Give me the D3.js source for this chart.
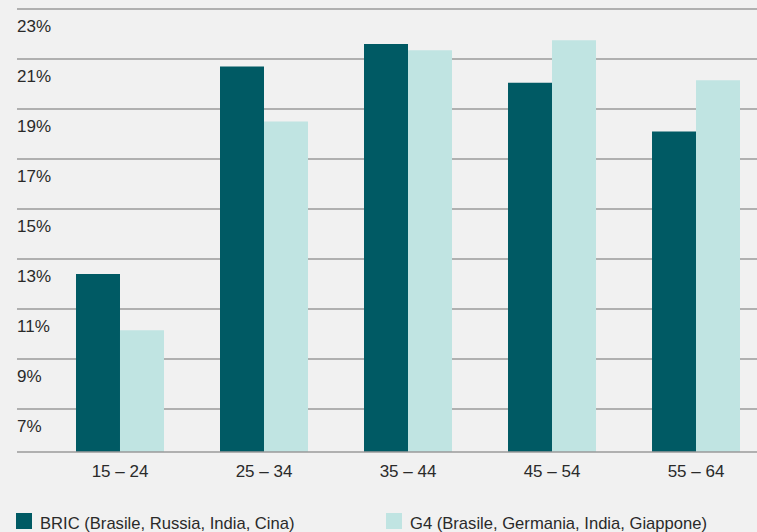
<!DOCTYPE html>
<html>
<head>
<meta charset="utf-8">
<script src="https://cdn.jsdelivr.net/npm/d3@7"></script>
<style>
  html, body { margin:0; padding:0; background:#f1f1f1; }
  #canvas { width:757px; height:532px; }
  text { font-family:"Liberation Sans", Arial, sans-serif; fill:#2a2a2a; }
</style>
</head>
<body>
<div id="canvas" class="canvas"></div>
<script>
// data
var categories = ['15 – 24', '25 – 34', '35 – 44', '45 – 54', '55 – 64'];
var series = ['BRIC (Brasile, Russia, India, Cina)', 'G4 (Brasile, Germania, India, Giappone)'];
var bricValues = [12.4, 20.7, 21.6, 20.05, 18.1];
var g4Values = [10.15, 18.5, 21.35, 21.75, 20.15];
var yTicks = [7, 9, 11, 13, 15, 17, 19, 21, 23];
var colors = ['#005a64', '#c0e4e2'];

var W = 757, H = 532;

var svg = d3.select('.canvas')
    .append('svg')
    .attr('width', W)
    .attr('height', H);

// y: 25px per point, 23% line at y=9, baseline at 452
var y = d3.scaleLinear().domain([5.28, 23]).range([452, 9]);

var x0 = d3.scaleBand().domain(categories).range([76, 740]).paddingInner(0.389).paddingOuter(0);
var x1 = d3.scaleBand().domain([0, 1]).range([0, x0.bandwidth()]);

// grid lines + labels (labels sit below their line)
var grid = svg.append('g');
grid.selectAll('line')
    .data(yTicks)
    .enter()
    .append('line')
    .attr('x1', 17).attr('x2', W)
    .attr('y1', function(d){ return y(d); })
    .attr('y2', function(d){ return y(d); })
    .style('stroke', '#9a9a9a')
    .style('stroke-width', 1.5);

grid.selectAll('text')
    .data(yTicks)
    .enter()
    .append('text')
    .attr('x', 17)
    .attr('y', function(d){ return y(d) + 23; })
    .style('font-size', '17px')
    .text(function(d){ return d + '%'; });

// bars
var rows = categories.map(function(c, i){ return {cat:c, vals:[bricValues[i], g4Values[i]]}; });

var groups = svg.selectAll('g.grp')
    .data(rows)
    .enter()
    .append('g')
    .attr('class', 'grp')
    .attr('transform', function(d){ return 'translate(' + x0(d.cat) + ',0)'; });

groups.selectAll('rect')
    .data(function(d){ return d.vals; })
    .enter()
    .append('rect')
    .attr('x', function(d, i){ return x1(i); })
    .attr('width', x1.bandwidth())
    .attr('y', function(d){ return y(d); })
    .attr('height', function(d){ return y.range()[0] - y(d); })
    .style('fill', function(d, i){ return colors[i]; });

// baseline
svg.append('line')
    .attr('x1', 17).attr('x2', W)
    .attr('y1', 452).attr('y2', 452)
    .style('stroke', '#9a9a9a')
    .style('stroke-width', 1.5);

// x labels
var xAxis = d3.axisBottom(x0).tickSize(0).tickPadding(0);
var gx = svg.append('g')
    .attr('transform', 'translate(0,' + 465 + ')')
    .call(xAxis);
gx.select('.domain').remove();
gx.selectAll('text')
    .attr('dy', '0.71em')
    .style('font-size', '17px')
    .style('font-family', '"Liberation Sans", Arial, sans-serif')
    .style('fill', '#2a2a2a');

// legend
var legX = [16, 386];
var leg = svg.selectAll('g.leg')
    .data(series)
    .enter()
    .append('g')
    .attr('class', 'leg')
    .attr('transform', function(d, i){ return 'translate(' + legX[i] + ',513)'; });

leg.append('rect')
    .attr('width', 16).attr('height', 16)
    .style('fill', function(d, i){ return colors[i]; });

leg.append('text')
    .attr('x', 24)
    .attr('y', 16)
    .style('font-size', '16.6px')
    .text(function(d){ return d; });
</script>
</body>
</html>
